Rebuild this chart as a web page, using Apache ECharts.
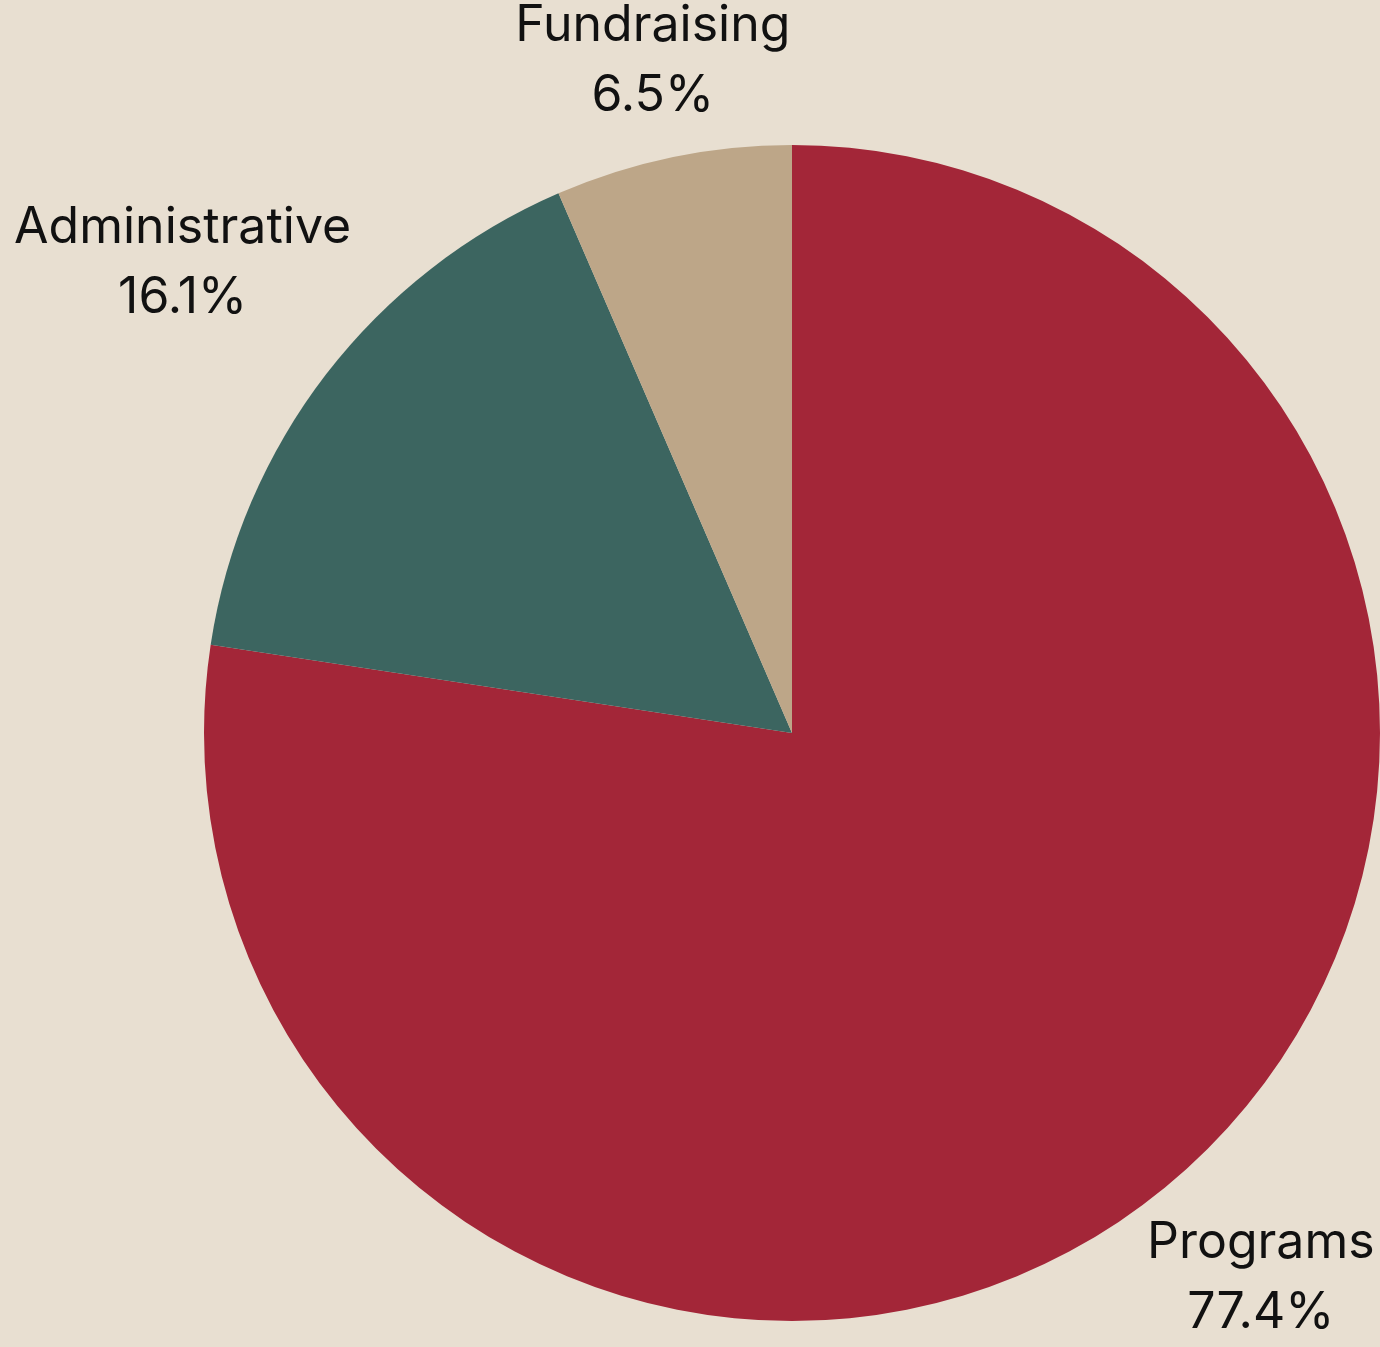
<!DOCTYPE html>
<html>
<head>
<meta charset="utf-8">
<script src="https://cdn.jsdelivr.net/npm/echarts@6/dist/echarts.min.js"></script>
<style>
html,body{margin:0;padding:0;background:#E8DFD1;}
#chart{width:1380px;height:1347px;}
</style>
</head>
<body>
<div id="chart"></div>
<script>
const categories = ['Programs', 'Administrative', 'Fundraising'];
const values = [77.4, 16.1, 6.5];
const colors = ['#A32638', '#3C6560', '#BDA688'];

const CX = 792, CY = 733, R = 588, GAP = 10;
const total = values.reduce((a, b) => a + b, 0);
const mids = [];
let acc = 0;
values.forEach(v => { mids.push((acc + v / 2) / total); acc += v; });

const chart = echarts.init(document.getElementById('chart'), null, {renderer: 'canvas'});
chart.setOption({
  backgroundColor: '#E8DFD1',
  animation: false,
  series: [{
    type: 'pie',
    center: [CX, CY],
    radius: R,
    startAngle: 90,
    clockwise: true,
    avoidLabelOverlap: false,
    data: categories.map((name, i) => ({
      name: name,
      value: values[i],
      itemStyle: {color: colors[i]}
    })),
    itemStyle: {borderWidth: 0},
    label: {
      show: true,
      position: 'outside',
      formatter: '{b}\n{c}%',
      fontFamily: 'Inter',
      fontSize: 50,
      lineHeight: 70,
      color: '#111111',
      align: 'center'
    },
    labelLine: {show: false},
    emphasis: {disabled: true},
    labelLayout: function (params) {
      const th = mids[params.dataIndex] * 2 * Math.PI;
      const ux = Math.sin(th), uy = -Math.cos(th);
      const w = params.labelRect.width, h = params.labelRect.height - 16;
      const d = R + GAP + (w / 2) * Math.abs(ux) + (h / 2) * Math.abs(uy);
      return {
        x: CX + d * ux,
        y: CY + d * uy,
        align: 'center',
        verticalAlign: 'middle'
      };
    }
  }]
});
</script>
</body>
</html>
